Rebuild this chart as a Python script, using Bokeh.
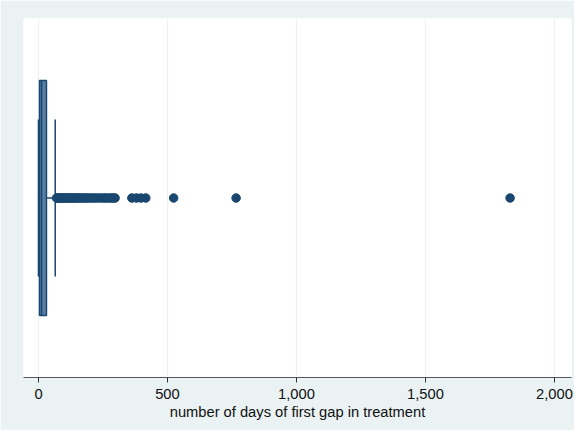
from bokeh.plotting import figure
from bokeh.models import FixedTicker, NumeralTickFormatter, Range1d
from bokeh.embed import file_html
from bokeh.resources import INLINE

# box statistics (days)
lower_whisker = 0
q1 = 4
median = 12
q3 = 31
upper_whisker = 65

# outliers
outliers = [70, 74, 78, 82, 86, 90, 95, 100, 105, 110, 115, 120, 125, 130, 135,
            140, 146, 152, 158, 165, 172, 180, 188, 195, 203, 212, 220, 230, 240,
            250, 258, 265, 275, 283, 290, 297, 362, 380, 398, 416, 524, 766, 1828]

xticks = [0, 500, 1000, 1500, 2000]
xlabel = "number of days of first gap in treatment"

BG = "#EAF2F3"
NAVY = "#1a476f"

p = figure(width=574, height=430, output_backend="svg", toolbar_location=None,
           x_range=Range1d(-58, 2066), y_range=Range1d(0, 1),
           min_border_left=23, min_border_right=3, min_border_top=18, min_border_bottom=53)
p.border_fill_color = BG
p.background_fill_color = "white"
p.outline_line_color = None

# whisker stems
c = 0.5
p.segment(x0=[lower_whisker, q3], y0=[c, c], x1=[q1, upper_whisker], y1=[c, c],
          line_color=NAVY, line_width=1.5)
# caps
ch = 0.219
p.segment(x0=[lower_whisker, upper_whisker], y0=[c - ch, c - ch],
          x1=[lower_whisker, upper_whisker], y1=[c + ch, c + ch],
          line_color=NAVY, line_width=1.5)
# box
bh = 0.327
p.quad(left=[q1], right=[q3], bottom=[c - bh], top=[c + bh],
       fill_color="#5a7ea3", line_color=NAVY, line_width=1.5)
p.segment(x0=[median], y0=[c - bh], x1=[median], y1=[c + bh], line_color=NAVY, line_width=1.5)
# outliers
p.scatter(x=outliers, y=[c] * len(outliers), size=8.5, fill_color=NAVY, line_color=NAVY)

p.xgrid.ticker = FixedTicker(ticks=xticks)
p.xgrid.grid_line_color = BG
p.xgrid.grid_line_width = 1.2
p.ygrid.grid_line_color = None

p.yaxis.visible = False
xa = p.xaxis[0]
xa.ticker = FixedTicker(ticks=xticks)
xa.formatter = NumeralTickFormatter(format="0,0")
xa.minor_tick_line_color = None
xa.major_tick_out = 5
xa.major_tick_in = 0
xa.axis_line_color = "#555555"
xa.major_tick_line_color = "#333333"
xa.major_label_text_font = "Liberation Sans"
xa.major_label_text_font_size = "14.7px"
xa.major_label_text_color = "#111111"
xa.major_label_standoff = 6
xa.axis_label = xlabel
xa.axis_label_text_font = "Liberation Sans"
xa.axis_label_text_font_size = "14.7px"
xa.axis_label_text_font_style = "normal"
xa.axis_label_text_color = "#111111"
xa.axis_label_standoff = 2

open("out.html", "w").write(file_html(p, INLINE))
